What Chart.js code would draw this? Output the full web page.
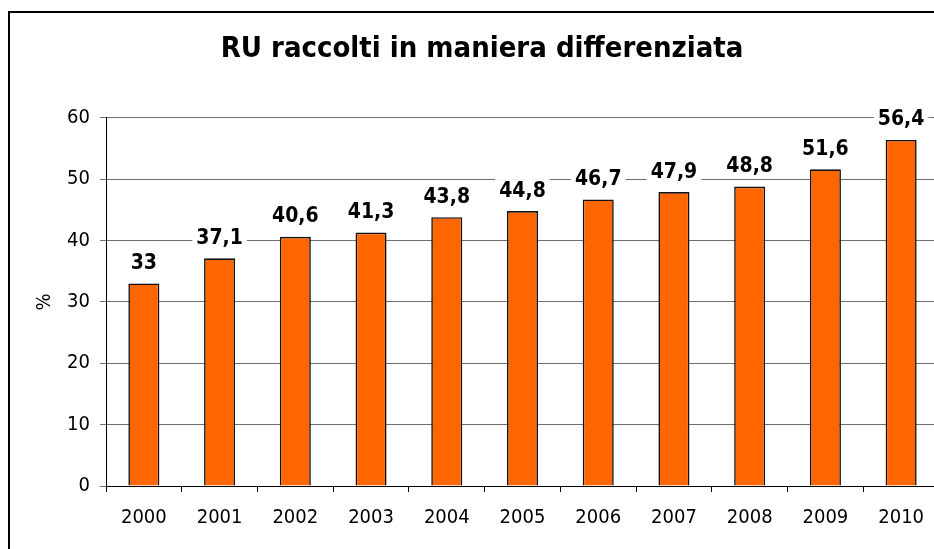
<!DOCTYPE html>
<html>
<head>
<meta charset="utf-8">
<script src="https://cdn.jsdelivr.net/npm/chart.js@4.4.1/dist/chart.umd.min.js"></script>
<style>
  html, body { margin:0; padding:0; background:#fff; overflow:hidden; }
  #frame { position:absolute; left:8px; top:11px; width:1000px; height:600px; border:2px solid #000; }
  #wrap { position:absolute; left:0; top:0; width:960px; height:549px; }
</style>
</head>
<body>
<div id="frame"></div>
<div id="wrap"><canvas id="chart"></canvas></div>
<script>
// ── Data ─────────────────────────────────────────────
const years = ['2000', '2001', '2002', '2003', '2004', '2005', '2006', '2007', '2008', '2009', '2010'];
const percent = [33, 37.1, 40.6, 41.3, 43.8, 44.8, 46.7, 47.9, 48.8, 51.6, 56.4];
const yTicks = [0, 10, 20, 30, 40, 50, 60];

const FONT = '"DejaVu Sans Condensed", "DejaVu Sans", sans-serif';

// value labels on a white box, like the spreadsheet ones
const valueLabels = {
  id: 'valueLabels',
  afterDatasetsDraw(chart) {
    const ctx = chart.ctx;
    const meta = chart.getDatasetMeta(0);
    ctx.save();
    ctx.font = 'bold 21px ' + FONT;
    ctx.textAlign = 'center';
    ctx.textBaseline = 'middle';
    meta.data.forEach((bar, i) => {
      const txt = String(percent[i]).replace('.', ',');
      const w = ctx.measureText(txt).width + 8;
      const cy = bar.y - 21;
      ctx.fillStyle = '#fff';
      ctx.fillRect(bar.x - w / 2, cy - 11, w, 22);
      ctx.fillStyle = '#000';
      ctx.fillText(txt, bar.x, cy + 1);
    });
    ctx.restore();
  }
};

new Chart(document.getElementById('chart'), {
  type: 'bar',
  data: {
    labels: years,
    datasets: [{
      data: percent,
      backgroundColor: '#ff6600',
      borderColor: '#111',
      borderWidth: 1.6,
      barPercentage: 0.41,
      categoryPercentage: 1,
    }]
  },
  options: {
    responsive: true,
    maintainAspectRatio: false,
    animation: false,
    layout: { padding: { left: 25, right: 21, top: 0, bottom: 0 } },
    plugins: {
      legend: { display: false },
      tooltip: { enabled: false },
      title: {
        display: true,
        text: 'RU raccolti in maniera differenziata',
        color: '#000',
        font: { family: FONT, size: 29, weight: 'bold', lineHeight: 1.2 },
        padding: { top: 32, bottom: 51 },
      },
    },
    scales: {
      x: {
        grid: { offset: true, drawOnChartArea: false, color: '#000', tickLength: 6 },
        border: { color: '#000', width: 1 },
        ticks: { color: '#000', font: { family: FONT, size: 20 }, padding: 14, maxRotation: 0 },
        afterFit: s => { s.height = 63; },
      },
      y: {
        min: 0,
        max: 60,
        afterBuildTicks: s => { s.ticks = yTicks.map(v => ({ value: v })); },
        grid: { color: '#6e6e6e', tickLength: 6 },
        border: { color: '#000', width: 1 },
        ticks: { color: '#000', font: { family: FONT, size: 20 }, padding: 10 },
        title: { display: true, text: '%', color: '#000', font: { family: FONT, size: 20 }, padding: { top: 8, bottom: 0 } },
        afterFit: s => { s.width = 81; },
      }
    }
  },
  plugins: [valueLabels]
});
</script>
</body>
</html>
